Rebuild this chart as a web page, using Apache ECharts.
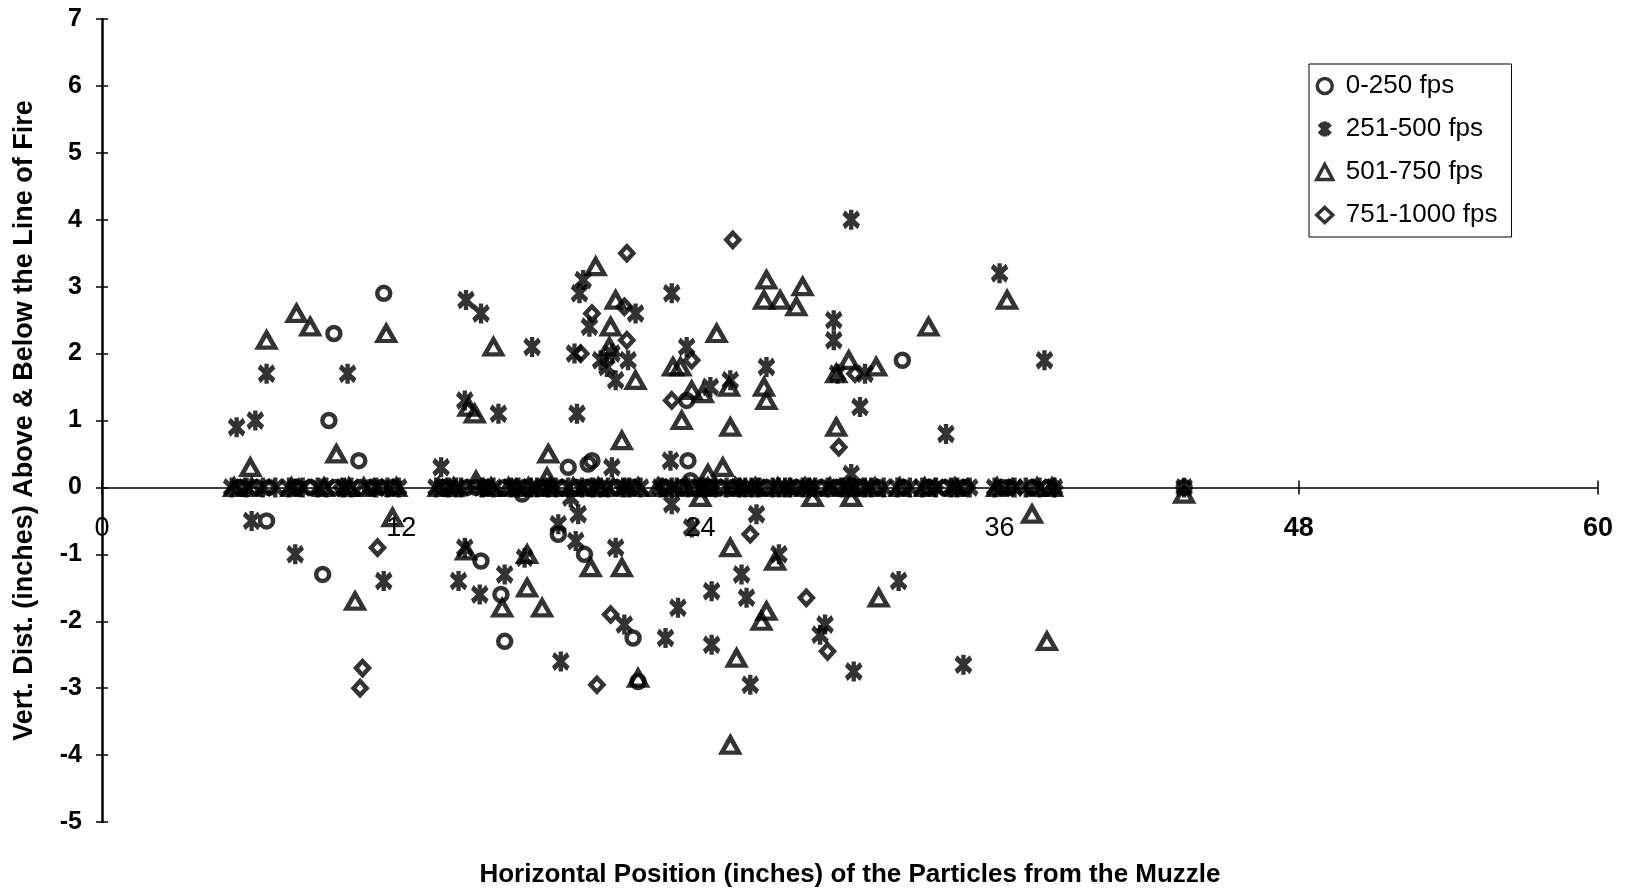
<!DOCTYPE html>
<html>
<head>
<meta charset="utf-8">
<script src="https://cdn.jsdelivr.net/npm/echarts@6/dist/echarts.min.js"></script>
<style>
  html, body { margin: 0; padding: 0; background: #fff; }
  #chart { width: 1627px; height: 893px; }
</style>
</head>
<body>
<div id="chart"></div>
<script>
// ---------------- DATA ----------------
const seriesNames = ['0-250 fps', '251-500 fps', '501-750 fps', '751-1000 fps'];

const xTicks = { min: 0, max: 60, interval: 12 };
const yTicks = { min: -5, max: 7, interval: 1 };

// 0-250 fps (circles)
const fps0_250 = [
  [11.3, 2.9], [9.3, 2.3], [9.1, 1.0], [10.3, 0.4], [6.6, -0.5], [8.85, -1.3],
  [18.7, 0.3], [19.5, 0.35], [19.65, 0.4], [16.85, -0.1], [18.3, -0.7], [19.35, -1.0],
  [15.2, -1.1], [16.0, -1.6], [16.15, -2.3], [21.3, -2.25], [21.5, -2.9],
  [23.45, 1.3], [23.5, 0.4], [23.6, 0.1], [32.1, 1.9],
  [5.5, 0], [6.2, 0], [6.7, 0], [7.75, 0], [8.35, 0], [9.35, 0], [10.35, 0], [10.75, 0],
  [11.2, 0], [11.65, 0], [13.65, 0], [14.65, 0], [15.0, 0], [15.45, 0], [16.15, 0],
  [16.95, 0], [17.65, 0], [18.45, 0], [19.05, 0], [19.4, 0], [20.65, 0], [21.3, 0],
  [22.6, 0], [23.25, 0], [23.7, 0], [24.4, 0], [24.8, 0], [25.3, 0], [26.65, 0],
  [27.85, 0], [28.85, 0], [29.45, 0], [30.35, 0], [31.15, 0], [32.15, 0], [33.15, 0],
  [33.8, 0], [34.55, 0], [36.1, 0], [36.35, 0], [37.3, 0], [37.95, 0], [43.4, 0]
];

// 251-500 fps (asterisks)
const fps251_500 = [
  [5.4, 0.9], [6.15, 1.0], [6.6, 1.7], [9.85, 1.7], [6.0, -0.5], [7.75, -1.0], [11.3, -1.4], [13.6, 0.3],
  [14.6, 2.8], [15.2, 2.6], [17.25, 2.1], [15.9, 1.1], [14.55, 1.3], [19.05, 1.1], [19.3, 3.1],
  [19.15, 2.9], [21.4, 2.6], [19.55, 2.4], [18.95, 2.0], [20.0, 1.9], [20.45, 2.0], [21.1, 1.9],
  [20.25, 1.8], [20.6, 1.6], [22.85, 2.9], [23.45, 2.1], [24.4, 1.5], [25.2, 1.6], [20.45, 0.3],
  [22.8, 0.4],
  [18.8, -0.15], [19.1, -0.4], [22.85, -0.25], [18.3, -0.55], [19.0, -0.8], [20.6, -0.9],
  [14.55, -0.9], [14.3, -1.4], [15.15, -1.6], [16.15, -1.3], [16.95, -1.05], [18.4, -2.6],
  [20.95, -2.05], [22.6, -2.25], [24.45, -2.35], [26.0, -2.95], [23.65, -0.6], [26.25, -0.4],
  [27.15, -1.0], [25.65, -1.3], [24.45, -1.55], [25.85, -1.65], [23.1, -1.8], [29.0, -2.05],
  [28.8, -2.2], [30.15, -2.75], [31.95, -1.4], [34.55, -2.65],
  [30.05, 4.0], [29.35, 2.5], [29.35, 2.2], [26.65, 1.8], [29.5, 1.7], [30.6, 1.7], [30.4, 1.2],
  [30.05, 0.2], [33.85, 0.8], [36.0, 3.2], [37.8, 1.9],
  [5.2, 0], [5.8, 0], [6.45, 0], [6.95, 0], [7.5, 0], [8.05, 0], [8.65, 0], [9.0, 0], [9.7, 0],
  [10.0, 0], [11.0, 0], [11.45, 0], [11.9, 0], [13.4, 0], [13.9, 0], [14.2, 0], [14.4, 0],
  [15.25, 0], [15.7, 0], [16.4, 0], [16.7, 0], [17.2, 0], [17.45, 0], [17.9, 0], [18.2, 0],
  [18.7, 0], [19.25, 0], [19.7, 0], [20.0, 0], [20.3, 0], [20.9, 0], [21.15, 0], [21.6, 0],
  [22.4, 0], [22.85, 0], [23.05, 0], [23.5, 0], [24.0, 0], [24.2, 0], [24.6, 0], [25.05, 0],
  [25.55, 0], [25.8, 0], [26.05, 0], [26.3, 0], [26.9, 0], [27.15, 0], [27.4, 0], [27.6, 0],
  [28.1, 0], [28.35, 0], [28.6, 0], [29.1, 0], [29.7, 0], [29.95, 0], [30.15, 0], [30.6, 0],
  [30.85, 0], [31.35, 0], [31.9, 0], [32.4, 0], [32.9, 0], [33.45, 0], [34.05, 0], [34.3, 0],
  [34.8, 0], [35.8, 0], [36.6, 0], [37.05, 0], [37.6, 0], [38.2, 0], [43.4, 0]
];

// 501-750 fps (triangles)
const fps501_750 = [
  [7.8, 2.6], [8.35, 2.4], [6.6, 2.2], [11.4, 2.3], [5.95, 0.3], [9.4, 0.5], [11.65, -0.45], [10.15, -1.7],
  [19.8, 3.3], [20.6, 2.8], [20.4, 2.4], [20.35, 2.1], [15.7, 2.1], [21.4, 1.6], [14.7, 1.2],
  [14.95, 1.1], [22.9, 1.8], [23.2, 1.8], [24.65, 2.3], [23.65, 1.45], [24.1, 1.4], [25.15, 1.5],
  [23.25, 1.0], [25.2, 0.9], [20.85, 0.7], [17.9, 0.5], [24.9, 0.3], [24.3, 0.2], [15.0, 0.1],
  [17.85, 0.15],
  [19.6, -1.2], [20.85, -1.2], [17.05, -1.0], [16.05, -1.8], [17.05, -1.5], [17.65, -1.8],
  [21.5, -2.85], [24.0, -0.15], [25.2, -0.9], [27.0, -1.1], [26.65, -1.85], [26.45, -2.0],
  [25.45, -2.55], [25.2, -3.85], [31.15, -1.65], [28.5, -0.15], [30.05, -0.15], [14.6, -0.95],
  [26.65, 3.1], [26.55, 2.8], [27.2, 2.8], [28.1, 3.0], [27.85, 2.7], [26.55, 1.5], [26.65, 1.3],
  [29.45, 1.7], [29.95, 1.9], [31.05, 1.8], [29.45, 0.9], [33.15, 2.4], [36.3, 2.8], [37.3, -0.4],
  [37.9, -2.3],
  [5.3, 0], [6.0, 0], [7.6, 0], [8.9, 0], [9.9, 0], [10.5, 0], [11.8, 0], [13.5, 0], [14.1, 0],
  [15.6, 0], [16.3, 0], [17.1, 0], [18.0, 0], [18.9, 0], [19.9, 0], [20.5, 0], [21.5, 0],
  [22.3, 0], [23.4, 0], [24.3, 0], [25.4, 0], [26.2, 0], [27.1, 0], [28.2, 0], [29.2, 0],
  [30.0, 0], [31.0, 0], [32.0, 0], [33.0, 0], [34.2, 0], [35.9, 0], [37.5, 0], [38.1, 0],
  [43.4, -0.1]
];

// 751-1000 fps (diamonds)
const fps751_1000 = [
  [11.05, -0.9], [10.45, -2.7], [10.35, -3.0], [21.05, 3.5], [20.95, 2.7], [19.65, 2.6],
  [21.05, 2.2], [19.2, 2.0], [22.85, 1.3], [23.65, 1.9], [25.3, 3.7], [29.55, 0.6], [30.2, 1.7],
  [20.4, -1.9], [19.85, -2.95], [26.0, -0.7], [28.25, -1.65], [29.1, -2.45],
  [5.7, 0], [7.9, 0], [9.6, 0], [10.9, 0], [13.8, 0], [15.3, 0], [16.6, 0], [17.8, 0], [19.6, 0],
  [21.0, 0], [22.5, 0], [24.1, 0], [25.6, 0], [26.4, 0], [27.6, 0], [28.4, 0], [29.6, 0],
  [30.5, 0], [33.4, 0], [34.7, 0], [36.5, 0], [38.2, 0]
];

const xTitle = 'Horizontal Position (inches) of the Particles from the Muzzle';
const yTitle = 'Vert. Dist. (inches) Above & Below the Line of Fire';

// ---------------- CHART ----------------
const FONT = '"Liberation Sans", Arial, Helvetica, sans-serif';
const STAR = 'path://M0,0 L20,20 M20,0 L0,20 M10,-4 L10,24';
const hollow = { color: 'rgba(0,0,0,0)', borderColor: '#000' };

// grid geometry (px) and the offset that puts the x axis on the line y = 0
const G = { left: 102, right: 29, top: 19, bottom: 71 };
const plotH = 893 - G.top - G.bottom;
const zeroOffset = -plotH * (0 - yTicks.min) / (yTicks.max - yTicks.min);

function mkSeries(name, data, symbol, size, bw) {
  return {
    name, type: 'scatter', data, symbol, symbolSize: size,
    itemStyle: Object.assign({ borderWidth: bw }, hollow),
    emphasis: { disabled: true }, silent: true
  };
}
const legendBw = [3.5, 5, 3.5, 3.5];

const chart = echarts.init(document.getElementById('chart'), null, { renderer: 'canvas' });
chart.setOption({
  animation: false,
  backgroundColor: '#fff',
  grid: Object.assign({ containLabel: false, outerBoundsMode: 'none' }, G),
  legend: {
    orient: 'vertical', left: 1309, top: 64,
    padding: [8, 14, 8, 6], itemGap: 15, itemWidth: 16, itemHeight: 15,
    borderColor: '#000', borderWidth: 1, backgroundColor: '#fff',
    data: seriesNames.map((n, i) => ({ name: n, itemStyle: Object.assign({ borderWidth: legendBw[i] }, hollow) })),
    textStyle: { fontFamily: FONT, fontSize: 26, color: '#000', lineHeight: 28, padding: [0, 0, 0, 8] }
  },
  xAxis: [{
    type: 'value', min: xTicks.min, max: xTicks.max, interval: xTicks.interval,
    position: 'bottom', offset: zeroOffset,
    name: xTitle, nameLocation: 'middle', nameGap: 374,
    nameTextStyle: { fontFamily: FONT, fontSize: 26, fontWeight: 'bold', color: '#000' },
    axisLine: { onZero: false, lineStyle: { color: '#000', width: 1.5 } },
    axisTick: { show: true, length: 7, lineStyle: { color: '#000', width: 1.5 } },
    splitLine: { show: false },
    axisLabel: {
      margin: 28, color: '#000', fontFamily: FONT, fontSize: 27,
      formatter: v => v >= 48 ? '{b|' + v + '}' : String(v),
      rich: { b: { fontFamily: FONT, fontSize: 27, fontWeight: 'bold', color: '#000' } }
    }
  }, {
    type: 'value', min: xTicks.min, max: xTicks.max, interval: xTicks.interval,
    position: 'bottom', offset: zeroOffset,
    axisLine: { show: false, onZero: false },
    axisTick: { show: true, inside: true, length: 7, lineStyle: { color: '#000', width: 1.5 } },
    axisLabel: { show: false }, splitLine: { show: false }
  }],
  yAxis: [{
    type: 'value', min: yTicks.min, max: yTicks.max, interval: yTicks.interval,
    name: yTitle, nameLocation: 'middle', nameGap: 64,
    nameTextStyle: { fontFamily: FONT, fontSize: 27, fontWeight: 'bold', color: '#000' },
    axisLine: { onZero: false, lineStyle: { color: '#000', width: 2.5 } },
    axisTick: { show: true, length: 6, lineStyle: { color: '#000', width: 1.5 } },
    splitLine: { show: false },
    axisLabel: { margin: 20, color: '#000', fontFamily: FONT, fontSize: 25, fontWeight: 'bold' }
  }, {
    type: 'value', min: yTicks.min, max: yTicks.max, interval: yTicks.interval, position: 'left',
    axisLine: { show: false, onZero: false },
    axisTick: { show: true, inside: true, length: 6, lineStyle: { color: '#000', width: 1.5 } },
    axisLabel: { show: false }, splitLine: { show: false }
  }],
  series: [
    mkSeries(seriesNames[0], fps0_250, 'circle', 13, 4.5),
    mkSeries(seriesNames[1], fps251_500, STAR, [15, 20], 5),
    mkSeries(seriesNames[2], fps501_750, 'triangle', [17, 15], 4.5),
    mkSeries(seriesNames[3], fps751_1000, 'diamond', [13, 14], 4.5)
  ]
});
</script>
</body>
</html>
